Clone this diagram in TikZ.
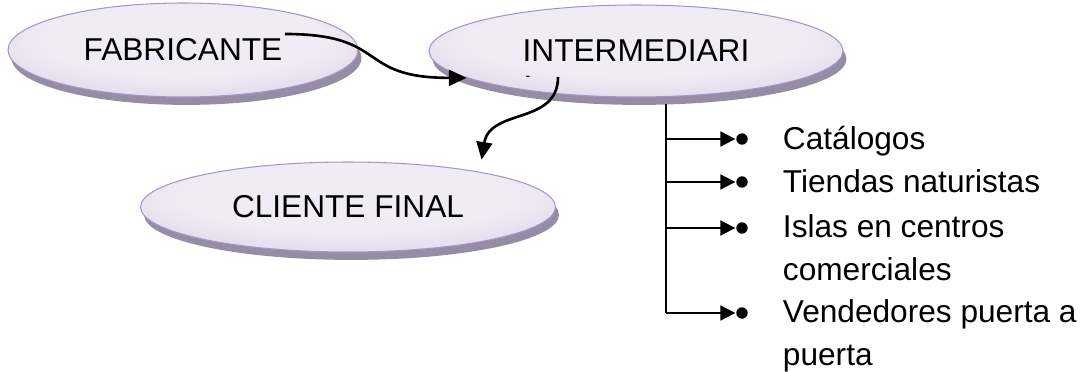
\documentclass[tikz,border=0pt]{standalone}
\usepackage{fontspec}
\setmainfont{Liberation Sans}
\usetikzlibrary{shapes.geometric,shadows,arrows.meta}

\definecolor{lila}{HTML}{C6B9DA}
\definecolor{lilaclaro}{HTML}{F0ECF5}
\definecolor{lilaborde}{HTML}{A596C6}
\definecolor{lilasombra}{HTML}{958DA6}

\pgfdeclareradialshading{lilashade}{\pgfpoint{0bp}{10bp}}{color(0bp)=(lilaclaro); color(20bp)=(lilaclaro); color(50bp)=(lila)}

\begin{document}
\begin{tikzpicture}[x=0.02cm,y=-0.02cm,line width=1.1pt,
    font=\fontsize{18}{24}\selectfont]
    \tikzstyle{canal}=[ellipse,draw=lilaborde,line width=0.6pt,inner sep=0pt,shading=lilashade,
        drop shadow={shadow xshift=2pt,shadow yshift=-4.5pt,fill=lilasombra,opacity=1}]
    \tikzstyle{flecha}=[-{Triangle[length=10pt,width=9pt]},line width=1.5pt]
    \tikzstyle{rama}=[-{Triangle[length=8.5pt,width=8.5pt]}]
    \tikzstyle{punto}=[circle,fill=black,inner sep=0pt,minimum size=6.5pt]
    \tikzstyle{item}=[anchor=base west,align=left,inner sep=0pt]

    \useasboundingbox (0,0) rectangle (1090,372);

    % Channels
    \node[canal,minimum width=7cm,minimum height=1.88cm] (fab) at (183,50) {FABRICANTE};
    \node[canal,minimum width=8.28cm,minimum height=1.84cm] (inter) at (636,51) {INTERMEDIARI};
    \node[font=\fontsize{8}{8}\selectfont,inner sep=0pt] (guion) at (528,78) {-};
    \node[canal,minimum width=8.3cm,minimum height=1.8cm] (cli) at (348,207) {CLIENTE FINAL};

    % Curved arrows between the channels
    \coordinate (salida) at (285,34);
    \coordinate (bajada) at (558,77);
    \draw[flecha] (salida) .. controls (390,34) and (355,78) .. (inter.189);
    \draw[flecha,shorten >=7pt] (bajada) .. controls (558,125) and (490,108) .. (cli.15);

    % Points of sale
    \node[punto] (cat) at (742,139) {};
    \node[punto] (tie) at (742,182) {};
    \node[punto] (isl) at (742,228) {};
    \node[punto] (ven) at (742,313) {};

    % (base of a two-line node is its last line)
    \node[item] (tcat) at (782,149) {Catálogos};
    \node[item] (ttie) at (782,192) {Tiendas naturistas};
    \node[item] (tisl) at (782,280) {Islas en centros\\comerciales};
    \node[item] (tven) at (782,365) {Vendedores puerta a\\puerta};

    % Tree from the intermediary
    \coordinate (tronco) at (666,104);
    \draw (tronco) -- (tronco |- ven);
    \foreach \n in {cat,tie,isl,ven}
        \draw[rama] (tronco |- \n) -- (\n);

\end{tikzpicture}
\end{document}
